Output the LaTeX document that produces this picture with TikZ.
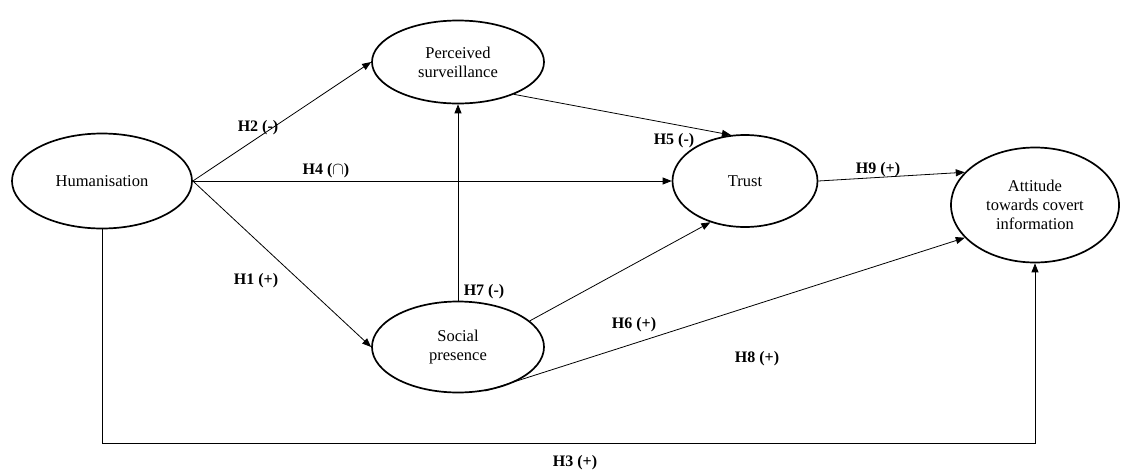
\documentclass[tikz,border=0pt]{standalone}
\usepackage{fontspec}
\setmainfont{Liberation Serif}
\usetikzlibrary{positioning,shapes.geometric,arrows.meta}
\tikzset{
    construct/.style={draw, ellipse, line width=1.7pt, align=center, inner sep=0pt},
    link/.style={-{Triangle[length=9pt,width=7pt]}, line width=0.8pt},
    hyp/.style={font=\fontsize{16}{18}\selectfont\bfseries}
}

\begin{document}
\begin{tikzpicture}[x=1pt, y=-1pt, font=\fontsize{16.5}{19}\selectfont]
\useasboundingbox (0,0) rectangle (1122,472);

% constructs
\node[construct, minimum width=180pt, minimum height=95pt] (human) at (102,181) {Humanisation};
\node[construct, minimum width=172pt, minimum height=83pt] (perc) at (458,62) {Perceived\\surveillance};
\node[construct, minimum width=172pt, minimum height=91pt] (social) at (458,347) {Social\\presence};
\node[construct, minimum width=145pt, minimum height=92pt] (trust) at (745,181) {Trust};
\node[construct, minimum width=168pt, minimum height=115pt] (attit) at (1035,205) {Attitude\\towards covert\\information};
\coordinate (base) at (0,443);

% paths
\draw[link] (human.east) -- (perc.west);
\draw[link] (human.east) -- (trust.west);
\draw[link] (human.east) -- (social.west);
\draw[link] (social.north) -- (perc.south);
\draw[link] (perc.-30) -- (trust.107);
\draw[link] (social.20) -- (trust.-130);
\draw[link] (social.-58) -- (attit.205);
\draw[link] (trust.east) -- (attit.155);
\draw[link] (human.south) -- (human.south |- base) -- (attit.south |- base) -- (attit.south);

% hypotheses
\node[hyp] (h1) at (256,281) {H1 (+)};
\node[hyp] (h2) at (258,128) {H2 (-)};
\node[hyp] (h3) at (575,463) {H3 (+)};
\node[hyp] (h4) at (326,171) {H4 ($\cap$)};
\node[hyp] (h5) at (674,141) {H5 (-)};
\node[hyp] (h6) at (634,325) {H6 (+)};
\node[hyp] (h7) at (484,292) {H7 (-)};
\node[hyp] (h8) at (757,359) {H8 (+)};
\node[hyp] (h9) at (878,170) {H9 (+)};
\end{tikzpicture}
\end{document}
